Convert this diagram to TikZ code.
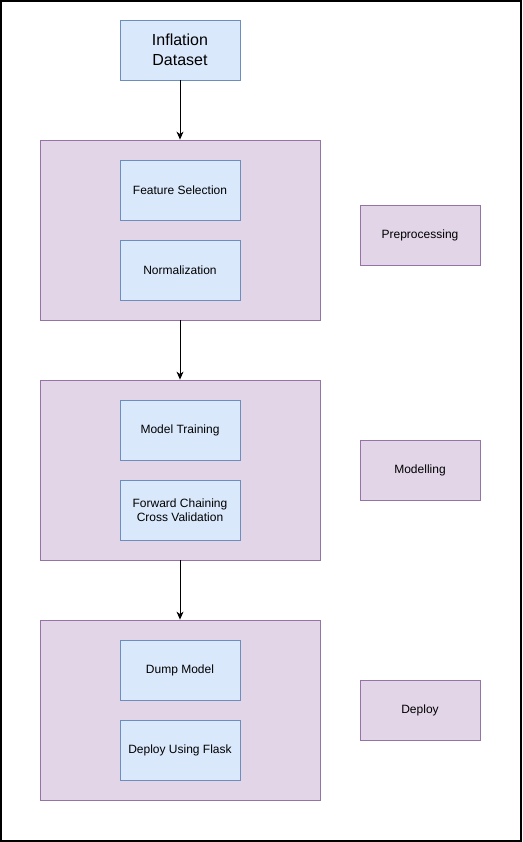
\documentclass[tikz,border=0pt]{standalone}
\usepackage{fontspec}
\setmainfont{Liberation Sans}
\usetikzlibrary{arrows.meta}
\begin{document}
\begin{tikzpicture}[x=1pt,y=-1pt,
  inner/.style={draw=blue2,fill=blue1,line width=0.8pt,minimum width=120pt,minimum height=60pt,align=center,inner sep=0pt,font=\fontsize{12}{14}\selectfont},
  grp/.style={draw=purple2,fill=purple1,line width=0.8pt,minimum width=280pt,minimum height=180pt,inner sep=0pt},
  side/.style={draw=purple2,fill=purple1,line width=0.8pt,minimum width=120pt,minimum height=60pt,align=center,inner sep=0pt,font=\fontsize{12}{14}\selectfont},
  conn/.style={-{Stealth[length=8pt,width=7pt,inset=2.5pt]},line width=0.9pt,black}]
\definecolor{blue1}{HTML}{DAE8FC}
\definecolor{blue2}{HTML}{6C8EBF}
\definecolor{purple1}{HTML}{E1D5E7}
\definecolor{purple2}{HTML}{9673A6}
\useasboundingbox (0,0) rectangle (522,842);
\draw[line width=2pt] (1,1) rectangle (521,841);
\node[inner,font=\fontsize{16}{20}\selectfont] (ds) at (180,50) {Inflation\\Dataset};
\node[grp] (g1) at (180,230) {};
\node[inner] (fs) at (180,190) {Feature Selection};
\node[inner] (nm) at (180,270) {Normalization};
\node[side] (pp) at (420,235) {Preprocessing};
\node[grp] (g2) at (180,470) {};
\node[inner] (mt) at (180,430) {Model Training};
\node[inner] (fc) at (180,510) {Forward Chaining\\Cross Validation};
\node[side] (md) at (420,470) {Modelling};
\node[grp] (g3) at (180,710) {};
\node[inner] (dm) at (180,670) {Dump Model};
\node[inner] (df) at (180,750) {Deploy Using Flask};
\node[side] (dp) at (420,710) {Deploy};
\draw[conn] (ds.south) -- (g1.north);
\draw[conn] (g1.south) -- (g2.north);
\draw[conn] (g2.south) -- (g3.north);
\end{tikzpicture}
\end{document}
